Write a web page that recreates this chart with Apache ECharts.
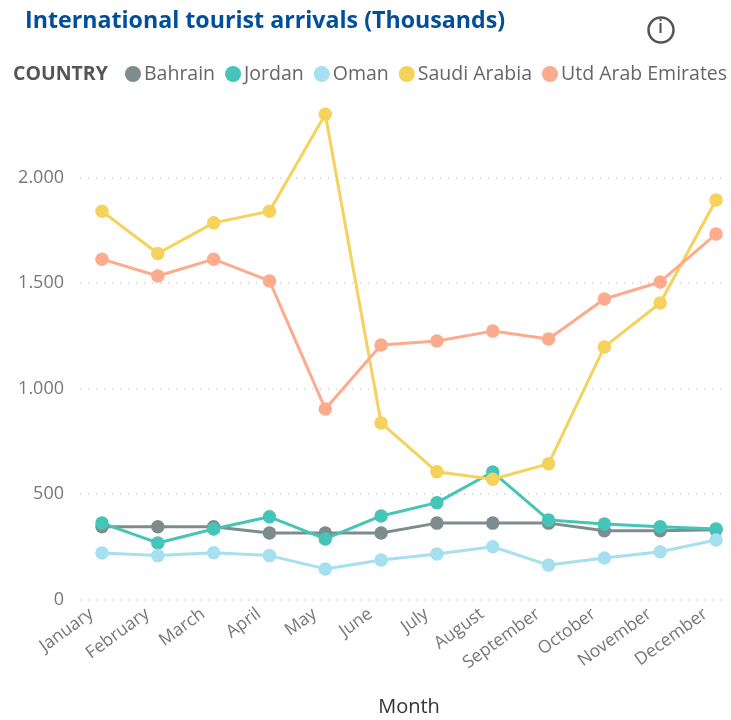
<!DOCTYPE html>
<html><head><meta charset="utf-8">
<style>html,body{margin:0;padding:0;background:#fff}#c{width:731px;height:720px}</style>
<script src="https://cdn.jsdelivr.net/npm/echarts@6/dist/echarts.min.js"></script>
</head><body><div id="c"></div>
<script>
const months = ['January','February','March','April','May','June','July','August','September','October','November','December'];
const bahrain = [345,345,345,315,315,315,362,362,362,326,326,330];
const jordan = [362,268,334,392,287,396,459,604,377,358,345,334];
const oman = [220,208,222,208,145,187,216,250,163,197,226,282];
const saudi = [1840,1640,1785,1840,2300,837,605,570,643,1197,1405,1893];
const uae = [1613,1533,1613,1510,903,1206,1225,1272,1235,1424,1505,1732];
const names = ['Bahrain','Jordan','Oman','Saudi Arabia','Utd Arab Emirates'];
const colors = ['#7F8C8D','#45C5B8','#A6DFF0','#F5D25B','#FDAB8D'];
const values = [bahrain,jordan,oman,saudi,uae];
const font = '"Open Sans", sans-serif';
const chart = echarts.init(document.getElementById('c'));
chart.setOption({
  animation:false,
  title:{text:'International tourist arrivals (Thousands)',left:20,top:5,textStyle:{fontFamily:font,fontSize:23.2,fontWeight:700,color:'#004F9B'}},
  legend:{left:120,top:59,width:640,itemWidth:16,itemHeight:16,itemGap:10,icon:'circle',data:names,
    textStyle:{fontFamily:font,fontSize:19.5,color:'#666',padding:[0,0,0,-2]}},
  graphic:[
    {type:'text',left:13,top:64,style:{text:'COUNTRY',fontFamily:font,fontSize:19.5,fontWeight:700,fill:'#555'}},
    {type:'circle',shape:{cx:661,cy:30,r:12.5},style:{fill:'none',stroke:'#555',lineWidth:2.5}},
    {type:'text',left:658,top:19,style:{text:'i',fontFamily:font,fontSize:18,fontWeight:600,fill:'#555'}}
  ],
  grid:[
    {left:80,right:6,top:72,bottom:120.5,outerBoundsMode:'none'},
    {left:102,right:15,top:72,bottom:120.5,outerBoundsMode:'none'}
  ],
  xAxis:[
    {gridIndex:0,type:'category',data:months,show:false},
    {gridIndex:1,type:'category',data:months,boundaryGap:false,
      axisLine:{show:false},axisTick:{show:false},
      axisLabel:{rotate:36,interval:0,margin:5,padding:[0,13,0,0],fontFamily:font,fontSize:17.5,color:'#777'},
      name:'Month',nameLocation:'middle',nameGap:98,
      nameTextStyle:{fontFamily:font,fontSize:20,color:'#333'}}
  ],
  yAxis:[
    {gridIndex:0,type:'value',min:0,max:2500,interval:500,
      axisLine:{show:false},axisTick:{show:false},
      axisLabel:{showMaxLabel:false,margin:16,fontFamily:font,fontSize:18,color:'#777',
        formatter:v=>v===0?'0':String(v).replace(/(\d)(\d{3})$/,'$1.$2')},
      splitLine:{show:true,showMaxLine:false,lineStyle:{color:'#ccc',type:[1,7],width:1.5}}},
    {gridIndex:1,type:'value',min:0,max:2500,interval:500,show:false}
  ],
  series:names.map((n,i)=>({name:n,type:'line',xAxisIndex:1,yAxisIndex:1,data:values[i],
    symbol:'circle',symbolSize:13.5,showAllSymbol:true,
    lineStyle:{color:colors[i],width:3},itemStyle:{color:colors[i]}}))
});
</script></body></html>
